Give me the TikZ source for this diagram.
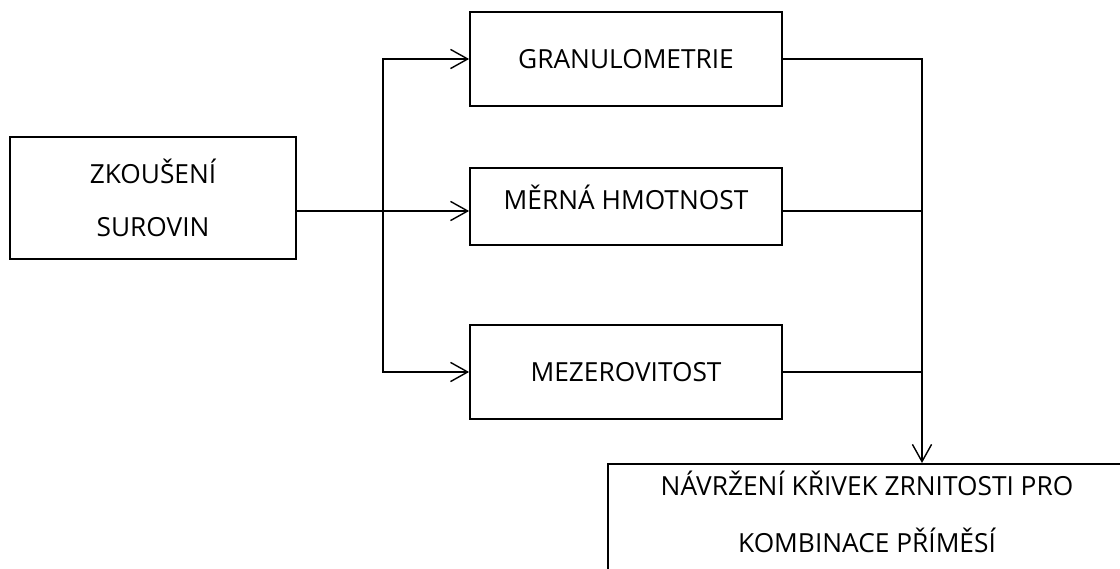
\documentclass[tikz,border=0pt]{standalone}
\usepackage{fontspec}
\setmainfont{Open Sans}
\usetikzlibrary{arrows.meta}
\tikzset{
    krabice/.style={draw=black, line width=1.2pt, inner sep=0pt, align=center, font=\fontsize{18.7}{38}\selectfont},
    spoj/.style={draw=black, line width=1.2pt},
    sipka/.style={spoj, -{Straight Barb[length=0.43cm, width=0.48cm, line width=1pt]}}
}
\begin{document}
\begin{tikzpicture}[x=0.025cm, y=-0.025cm]
    \useasboundingbox (0,0) rectangle (1120,569);
    %Boxy
        \node[krabice, minimum width=7.15cm, minimum height=3.05cm] (zkouseni) at (153,198) {ZKOUŠENÍ\\SUROVIN};
        \node[krabice, minimum width=7.8cm, minimum height=2.35cm] (granul) at (626,59) {GRANULOMETRIE};
        \node[krabice, minimum width=7.8cm, minimum height=1.925cm, text depth=0.45cm] (merna) at (626,206.5) {MĚRNÁ HMOTNOST};
        \node[krabice, minimum width=7.8cm, minimum height=2.35cm] (mezer) at (626,372) {MEZEROVITOST};
        \node[krabice, anchor=north west, minimum width=13.2cm, minimum height=3.5cm] (navrhbox) at (607,463) {};
        \node[align=center, inner sep=0pt, font=\fontsize{18.7}{41}\selectfont] (navrh) at (867,512) {NÁVRŽENÍ KŘIVEK ZRNITOSTI PRO\\KOMBINACE PŘÍMĚSÍ};

    %Spoje
        \coordinate (rozv) at (383,211);
        \coordinate (sber) at (922,211);
        \draw[sipka] (zkouseni.east |- rozv) -- (merna.west |- rozv);
        \draw[sipka] (rozv) |- (granul.west);
        \draw[sipka] (rozv) |- (mezer.west);
        %
        \draw[spoj] (merna.east |- sber) -- (sber);
        \draw[spoj] (mezer.east) -- (mezer.east -| sber);
        \draw[sipka] (granul.east) -| (sber |- navrhbox.north);
\end{tikzpicture}
\end{document}
